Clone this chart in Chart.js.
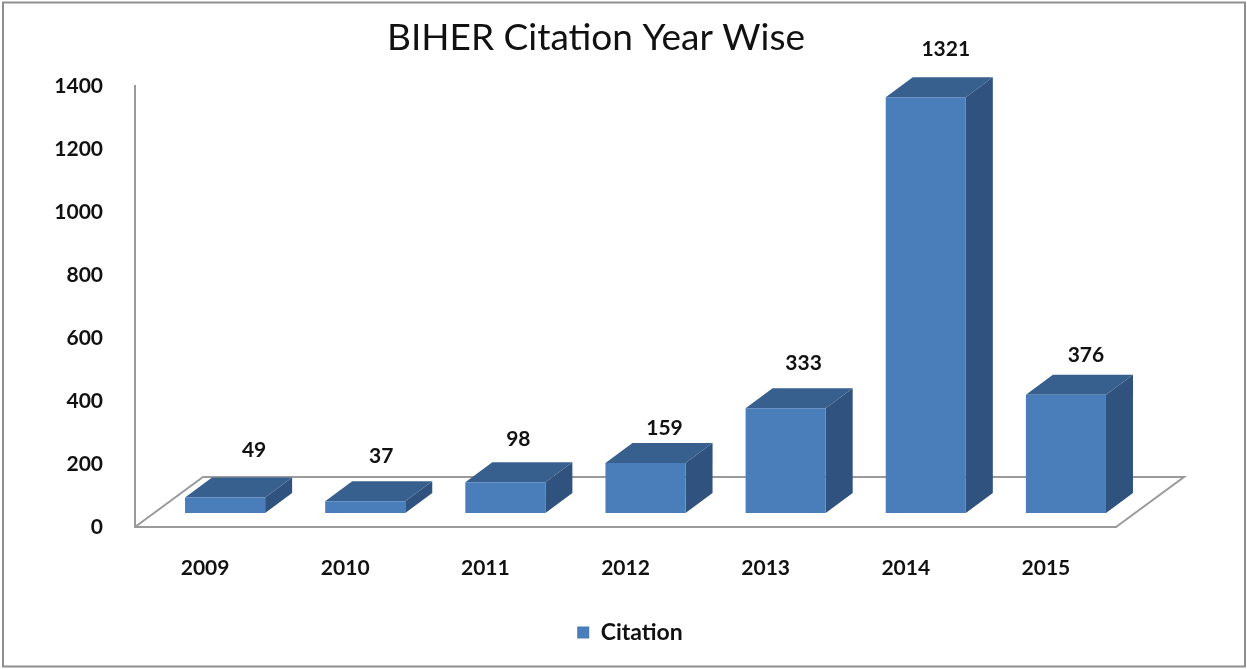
<!DOCTYPE html>
<html>
<head>
<meta charset="utf-8">
<style>html,body{margin:0;padding:0;background:#fff}canvas{display:block}</style>
<script src="https://cdn.jsdelivr.net/npm/chart.js@4"></script>
</head>
<body>
<canvas id="c" width="1247" height="669"></canvas>
<script>
const years = ['2009','2010','2011','2012','2013','2014','2015'];
const citations = [49,37,98,159,333,1321,376];
const seriesName = 'Citation';
const chartTitle = 'BIHER Citation Year Wise';

// perspective and label placement (styling only)
const depthX = 27, depthY = 20, frontX = 20, frontY = -14;
const floorDX = 68, floorDY = -50;
const labelDX = [49,36,33,39,38,40,40];
const labelDY = [-61,-59,-57,-49,-59,-62,-53];
const FRONT = '#4a7ebb', TOP = '#38608f', SIDE = '#30527f', LINE = '#9a9a9a', INK = '#111';
const FONT = 'Lato, "Liberation Sans", sans-serif';

function poly(ctx, pts, fill){
  ctx.beginPath();
  pts.forEach((p,i)=> i ? ctx.lineTo(p[0],p[1]) : ctx.moveTo(p[0],p[1]));
  ctx.closePath();
  ctx.fillStyle = fill;
  ctx.fill();
}

const frame = {
  id:'frame',
  beforeDraw(chart){
    const c = chart.ctx;
    c.save();
    c.fillStyle='#fff'; c.fillRect(0,0,chart.width,chart.height);
    c.strokeStyle='#8f8f8f'; c.lineWidth=2;
    c.strokeRect(3,2.5,chart.width-5,chart.height-5);
    c.restore();
  }
};

const shift = {
  id:'shift',
  afterLayout(chart){
    chart.titleBlock.left += 38; chart.titleBlock.right += 38;
    chart.legend.left += 72; chart.legend.right += 72;
  }
};

const floor = {
  id:'floor',
  beforeDatasetsDraw(chart){
    const {left,right,bottom} = chart.chartArea, c = chart.ctx;
    c.save();
    c.strokeStyle = LINE; c.lineWidth = 2;
    c.beginPath();
    c.moveTo(left,bottom);
    c.lineTo(left+floorDX,bottom+floorDY);
    c.lineTo(right+floorDX,bottom+floorDY);
    c.lineTo(right,bottom);
    c.stroke();
    c.restore();
  }
};

const bars3d = {
  id:'bars3d',
  beforeDatasetDraw(chart,args){
    const c = chart.ctx;
    c.save();
    c.translate(frontX,frontY);
    args.meta.data.forEach(el=>{
      const l = el.x-el.width/2, r = el.x+el.width/2, t = el.y, b = el.base;
      poly(c,[[r,t],[r+depthX,t-depthY],[r+depthX,b-depthY],[r,b]],SIDE);
      poly(c,[[l,t],[l+depthX,t-depthY],[r+depthX,t-depthY],[r,t]],TOP);
    });
  },
  afterDatasetDraw(chart){ chart.ctx.restore(); }
};

const valueLabels = {
  id:'valueLabels',
  afterDatasetsDraw(chart){
    const c = chart.ctx;
    c.save();
    c.font = 'bold 21px '+FONT;
    c.fillStyle = INK; c.textAlign='center'; c.textBaseline='middle';
    chart.getDatasetMeta(0).data.forEach((el,i)=>{
      c.fillText(String(citations[i]), el.x+labelDX[i], el.y+labelDY[i]);
    });
    c.restore();
  }
};

new Chart(document.getElementById('c'),{
  type:'bar',
  data:{labels:years,datasets:[{
    label:seriesName,data:citations,backgroundColor:FRONT,borderWidth:0,
    barPercentage:1,categoryPercentage:80/140
  }]},
  plugins:[frame,shift,floor,bars3d,valueLabels],
  options:{
    responsive:false,animation:false,
    layout:{padding:{left:0,right:131,top:0,bottom:15}},
    plugins:{
      title:{display:true,text:chartTitle,color:INK,
        font:{family:FONT,size:37,weight:'normal',lineHeight:1.2},
        padding:{top:16,bottom:26}},
      legend:{position:'bottom',
        labels:{boxWidth:12,boxHeight:12,padding:10,color:INK,
          font:{family:FONT,size:23,weight:'bold'}}},
      tooltip:{enabled:false}
    },
    scales:{
      x:{
        grid:{display:false},
        border:{display:true,color:LINE,width:2},
        ticks:{color:INK,padding:21,maxRotation:0,autoSkip:false,
          font:{family:FONT,size:21,weight:'bold'}},
        afterFit(s){s.height=84;}
      },
      y:{
        min:0,max:1400,
        grid:{display:false},
        border:{display:true,color:LINE,width:2},
        ticks:{stepSize:200,color:INK,padding:24,
          callback:v=>String(v),
          font:{family:FONT,size:21,weight:'bold'}},
        afterFit(s){s.width=135;}
      }
    }
  }
});
</script>
</body>
</html>
